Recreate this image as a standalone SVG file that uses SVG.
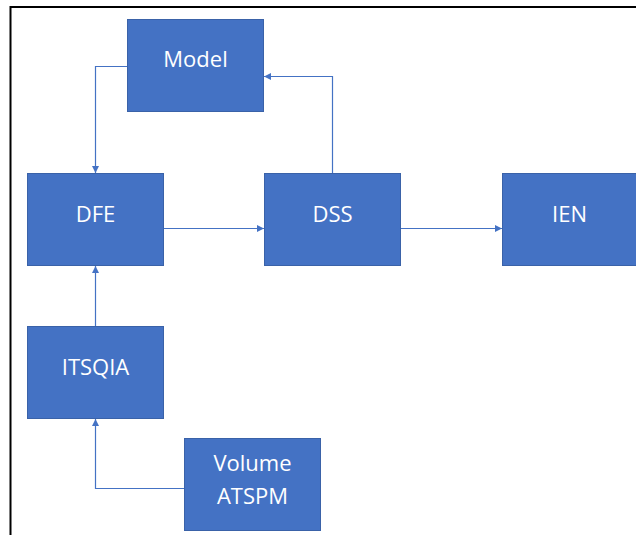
<svg xmlns="http://www.w3.org/2000/svg" width="636" height="535" viewBox="0 0 636 535">
<defs>
<style>
.box{fill:#4472C4;stroke:#3A62A8;stroke-width:1}
.lbl{fill:#fff;font-family:"Open Sans","Noto Sans",sans-serif;font-size:22px;text-anchor:middle}
.con{fill:none;stroke:#4472C4;stroke-width:1.2}
</style>
<marker id="ah" viewBox="0 0 10 10" refX="10" refY="5" markerWidth="7" markerHeight="7" markerUnits="userSpaceOnUse" orient="auto">
<path d="M0,0 L10,5 L0,10 Z" fill="#4472C4"/>
</marker>
</defs>
<rect width="636" height="535" fill="#fff"/>
<path d="M10.5,535 V7 H636" fill="none" stroke="#000" stroke-width="2"/>
<g id="connectors">
<path class="con" d="M127,66.5 H95.5 V173" marker-end="url(#ah)"/>
<path class="con" d="M332.5,173 V76.5 H264" marker-end="url(#ah)"/>
<path class="con" d="M163,228.5 H264" marker-end="url(#ah)"/>
<path class="con" d="M400,228.5 H502" marker-end="url(#ah)"/>
<path class="con" d="M95.5,326 V266" marker-end="url(#ah)"/>
<path class="con" d="M184,488.5 H95.5 V419" marker-end="url(#ah)"/>
</g>
<g id="model"><rect class="box" x="127.5" y="19.5" width="136" height="92"/><text class="lbl" x="195.5" y="67">Model</text></g>
<g id="dfe"><rect class="box" x="27.5" y="173.5" width="136" height="92"/><text class="lbl" x="95.5" y="221.5">DFE</text></g>
<g id="dss"><rect class="box" x="264.5" y="173.5" width="136" height="92"/><text class="lbl" x="332.5" y="221.5">DSS</text></g>
<g id="ien"><rect class="box" x="502.5" y="173.5" width="136" height="92"/><text class="lbl" x="569.5" y="221.5">IEN</text></g>
<g id="itsqia"><rect class="box" x="27.5" y="326.5" width="136" height="92"/><text class="lbl" x="95.5" y="374.5">ITSQIA</text></g>
<g id="volume"><rect class="box" x="184.5" y="438.5" width="136" height="92"/><text class="lbl" x="252.5" y="471">Volume</text><text class="lbl" x="252.5" y="504">ATSPM</text></g>
</svg>
